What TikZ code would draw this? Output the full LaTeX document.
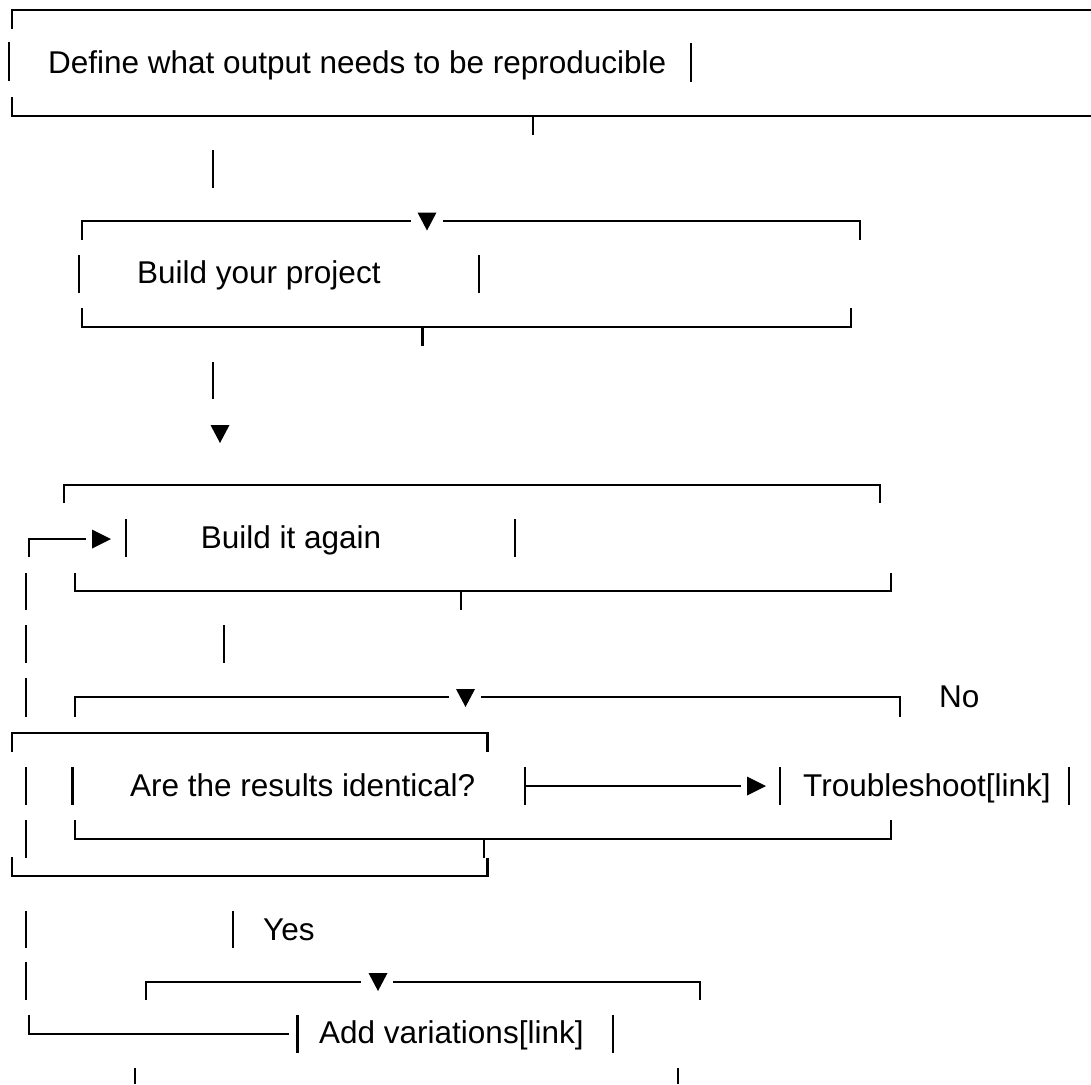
\documentclass[tikz,border=0pt]{standalone}
\usepackage{fontspec}
\setmainfont{Liberation Sans}
\tikzset{
  glyph/.style={line width=2.1pt},
  txt/.style={anchor=base west,inner sep=0pt,font=\fontsize{31.5}{38}\selectfont},
  % arrow heads
  pics/tipdown/.style={code={
    \fill (-9.5,-9) -- (9.5,-9) -- (0,9) -- cycle;
  }},
  pics/tipright/.style={code={
    \fill (-9.5,-9.5) -- (-9.5,9.5) -- (9.5,0) -- cycle;
  }},
}

\begin{document}
\begin{tikzpicture}[x=1pt,y=-1pt]
  \useasboundingbox[fill=white] (0,0) rectangle (1091,1084);

  % box outlines
  \draw[glyph] (11.8,29) -- (11.8,10) -- (1091,10);
  \draw[glyph] (11.8,97) -- (11.8,116) -- (1091,116);
  \draw[glyph] (82,240) -- (82,221) -- (411,221);
  \draw[glyph] (443,221) -- (860,221) -- (860,240);
  \draw[glyph] (82,308) -- (82,327) -- (851,327) -- (851,308);
  \draw[glyph] (64,503) -- (64,485) -- (880,485) -- (880,503);
  \draw[glyph] (28.6,557) -- (28.6,539) -- (85.7,539);
  \draw[glyph] (75,573) -- (75,591) -- (891,591) -- (891,573);
  \draw[glyph] (75,717) -- (75,697) -- (449,697);
  \draw[glyph] (481,697) -- (900,697) -- (900,717);
  \draw[glyph] (12,752) -- (12,733) -- (487.5,733) -- (487.5,752);
  \draw[glyph] (525,786) -- (740.7,786);
  \draw[glyph] (75,820) -- (75,839) -- (891,839) -- (891,820);
  \draw[glyph] (12,857) -- (12,876) -- (487.5,876) -- (487.5,858);
  \draw[glyph] (146.4,1000) -- (146.4,982) -- (361,982);
  \draw[glyph] (393,982) -- (700,982) -- (700,1000);
  \draw[glyph] (28.6,1015) -- (28.6,1034) -- (289,1034);

  % single bars
  \foreach \x/\ya/\yb in {9/42/81, 690.7/43/82, 533/116/135, 213/150/188,
      79/255/293, 479/255/293, 422.5/327/346, 213/362/399,
      125.7/519/557, 515/519/557, 460.7/591/610, 224/625/663,
      26/573/610, 26/625/663, 26/678/717,
      26/767/805, 72.5/767/805, 525/767/805, 780/767/805, 1069/767/805,
      26/820/858, 484/839/858,
      26/911/948, 233/911/948, 26/962/1000,
      297.5/1015/1053, 613/1015/1053, 135/1068/1084, 678/1068/1084}
    \draw[glyph] (\x,\ya) -- (\x,\yb);

  % arrow heads
  \pic at (427,221.5) {tipdown};
  \pic at (220,434) {tipdown};
  \pic at (465.5,698) {tipdown};
  \pic at (378,982) {tipdown};
  \pic at (101.5,539) {tipright};
  \pic at (756.5,786) {tipright};

  % texts
  \node[txt] (define) at (48,73.3) {Define what output needs to be reproducible};
  \node[txt] (build) at (137,283) {Build your project};
  \node[txt] (again) at (200.7,548) {Build it again};
  \node[txt] (no) at (939,707) {No};
  \node[txt] (identical) at (130,796) {Are the results identical?};
  \node[txt] (trouble) at (803,796) {Troubleshoot[link]};
  \node[txt] (yes) at (263,940) {Yes};
  \node[txt] (variations) at (319,1043) {Add variations[link]};
\end{tikzpicture}
\end{document}
